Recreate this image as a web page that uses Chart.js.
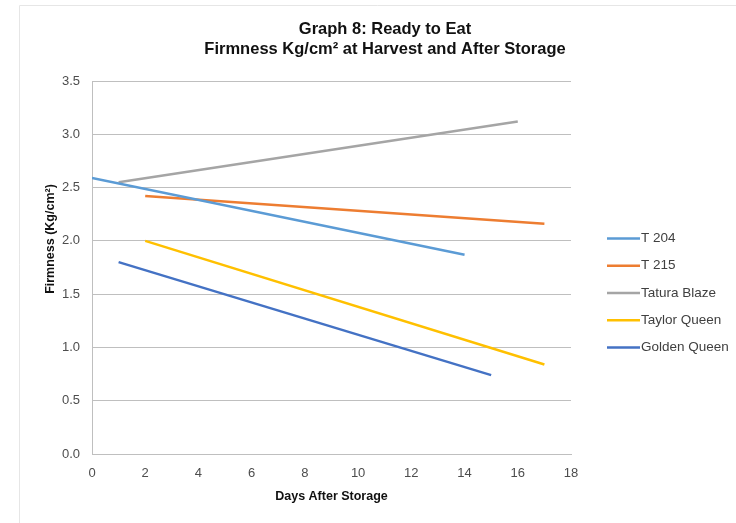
<!DOCTYPE html>
<html>
<head>
<meta charset="utf-8">
<title>Graph 8: Ready to Eat</title>
<script src="https://cdn.jsdelivr.net/npm/chart.js@4/dist/chart.umd.min.js"></script>
<style>
  html, body { margin: 0; padding: 0; background: #ffffff; }
  #wrap { position: relative; width: 736px; height: 523px; }
  canvas { display: block; }
</style>
</head>
<body>
<div id="wrap"><canvas id="chart" width="736" height="523"></canvas></div>
<script>
// Firmness (Kg/cm²) at harvest and after storage, by variety
const seriesNames = ['T 204', 'T 215', 'Tatura Blaze', 'Taylor Queen', 'Golden Queen'];
const seriesColors = ['#5B9BD5', '#ED7D31', '#A5A5A5', '#FFC000', '#4472C4'];

// days after storage for each series' start and end point
const t204Days = [0, 14];
const t215Days = [2, 17];
const taturaBlazeDays = [1, 16];
const taylorQueenDays = [2, 17];
const goldenQueenDays = [1, 15];

// firmness values
const t204Firmness = [2.59, 1.87];
const t215Firmness = [2.42, 2.16];
const taturaBlazeFirmness = [2.55, 3.12];
const taylorQueenFirmness = [2.00, 0.84];
const goldenQueenFirmness = [1.80, 0.74];

const xTicks = [0, 2, 4, 6, 8, 10, 12, 14, 16, 18];
const yTicks = [0.0, 0.5, 1.0, 1.5, 2.0, 2.5, 3.0, 3.5];

const titleLines = ['Graph 8: Ready to Eat', 'Firmness Kg/cm\u00B2 at Harvest and After Storage'];
const xTitle = 'Days After Storage';
const yTitle = 'Firmness (Kg/cm\u00B2)';

const FONT = '"Liberation Sans", Arial, Helvetica, sans-serif';

function toPoints(days, vals) {
  return days.map((d, i) => ({ x: d, y: vals[i] }));
}

const seriesData = [
  toPoints(t204Days, t204Firmness),
  toPoints(t215Days, t215Firmness),
  toPoints(taturaBlazeDays, taturaBlazeFirmness),
  toPoints(taylorQueenDays, taylorQueenFirmness),
  toPoints(goldenQueenDays, goldenQueenFirmness)
];

const datasets = seriesNames.map((name, i) => ({
  label: name,
  data: seriesData[i],
  borderColor: seriesColors[i],
  backgroundColor: seriesColors[i],
  borderWidth: 2.5,
  pointRadius: 0,
  pointHoverRadius: 0,
  fill: false,
  tension: 0
}));

// frame, title, rotated y-axis title and legend
const decorations = {
  id: 'decorations',
  beforeDraw(chart) {
    const ctx = chart.ctx;
    ctx.save();
    ctx.strokeStyle = '#e6e6e6';
    ctx.lineWidth = 1;
    ctx.beginPath();
    ctx.moveTo(19.5, 523);
    ctx.lineTo(19.5, 5.5);
    ctx.lineTo(736, 5.5);
    ctx.stroke();
    ctx.restore();
  },
  afterDraw(chart) {
    const ctx = chart.ctx;
    ctx.save();
    // title
    ctx.fillStyle = '#111111';
    ctx.font = 'bold 16.5px ' + FONT;
    ctx.textAlign = 'center';
    ctx.textBaseline = 'middle';
    ctx.fillText(titleLines[0], 385, 29);
    ctx.fillText(titleLines[1], 385, 49);

    // y-axis title
    ctx.save();
    ctx.translate(51, 239);
    ctx.rotate(-Math.PI / 2);
    ctx.font = 'bold 12.5px ' + FONT;
    ctx.fillStyle = '#111111';
    ctx.fillText(yTitle, 0, 0);
    ctx.restore();

    // legend
    ctx.font = '13.5px ' + FONT;
    ctx.textAlign = 'left';
    chart.data.datasets.forEach((ds, i) => {
      const y = 238.5 + i * 27.25;
      ctx.strokeStyle = ds.borderColor;
      ctx.lineWidth = 2.5;
      ctx.beginPath();
      ctx.moveTo(607, y);
      ctx.lineTo(640, y);
      ctx.stroke();
      ctx.fillStyle = '#404040';
      ctx.fillText(ds.label, 641, y);
    });
    ctx.restore();
  }
};

new Chart(document.getElementById('chart'), {
  type: 'line',
  data: { datasets },
  plugins: [decorations],
  options: {
    responsive: false,
    animation: false,
    events: [],
    layout: { padding: { left: 0, right: 165, top: 81, bottom: 10 } },
    plugins: {
      legend: { display: false },
      title: { display: false },
      tooltip: { enabled: false }
    },
    scales: {
      x: {
        type: 'linear',
        min: 0,
        max: 18,
        afterBuildTicks(scale) { scale.ticks = xTicks.map(v => ({ value: v })); },
        afterFit(scale) { scale.height = 59; },
        grid: { display: false, drawTicks: false },
        border: { display: true, color: '#BFBFBF', width: 1 },
        ticks: {
          padding: 12,
          color: '#4d4d4d',
          font: { family: FONT, size: 13 },
          maxRotation: 0,
          callback: v => String(v)
        },
        title: {
          display: true,
          text: xTitle,
          color: '#111111',
          font: { family: FONT, size: 12.5, weight: 'bold' },
          padding: { top: 4, bottom: 9 }
        }
      },
      y: {
        type: 'linear',
        min: 0,
        max: 3.5,
        afterBuildTicks(scale) { scale.ticks = yTicks.map(v => ({ value: v })); },
        afterFit(scale) { scale.width = 92; },
        grid: { color: '#BFBFBF', lineWidth: 1, drawTicks: false },
        border: { display: true, color: '#BFBFBF', width: 1 },
        ticks: {
          padding: 12,
          color: '#4d4d4d',
          font: { family: FONT, size: 13 },
          callback: v => Number(v).toFixed(1)
        }
      }
    }
  }
});
</script>
</body>
</html>
